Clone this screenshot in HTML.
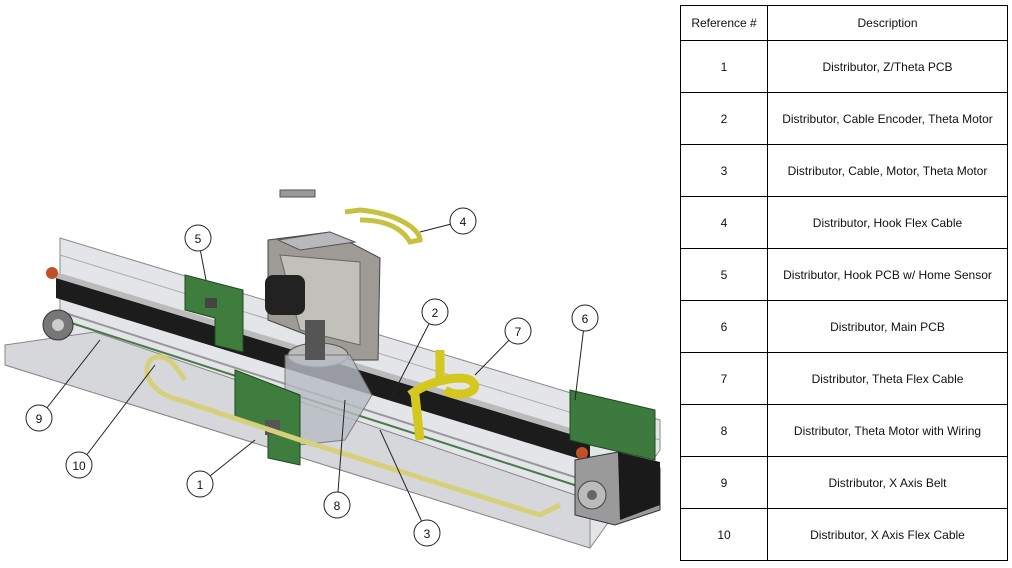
<!DOCTYPE html>
<html><head><style>
body{margin:0;width:1012px;height:568px;background:#fff;position:relative;overflow:hidden;font-family:"Liberation Sans",Arial,sans-serif}
table{position:absolute;left:680px;top:5px;border-collapse:collapse;font-size:12px;color:#111}
td{border:1px solid #000;text-align:center;padding:0;height:51px}
tr.h td{height:34px}
td.a{width:86px}td.b{width:239px}
svg{position:absolute;left:0;top:0}
</style></head><body>
<svg width="680" height="568" viewBox="0 0 680 568">
<!-- housing -->
<polygon points="60,238 660,420 660,450 590,548 5,365 5,345 60,340" fill="#e4e5e8" stroke="#8a8a8a" stroke-width="1"/>
<polygon points="5,345 95,332 590,500 590,548 5,365" fill="#d6d7db" stroke="#888" stroke-width="1"/>
<line x1="60" y1="255" x2="660" y2="440" stroke="#aaa"/>
<!-- black rail -->
<polygon points="56,278 590,440 590,462 56,298" fill="#1c1c1c"/>
<polygon points="56,272 590,434 590,440 56,278" fill="#bbb"/>
<!-- belt -->
<line x1="62" y1="320" x2="590" y2="490" stroke="#4a7a4a" stroke-width="2"/>
<line x1="62" y1="312" x2="590" y2="482" stroke="#999" stroke-width="2"/>
<circle cx="58" cy="325" r="15" fill="#777" stroke="#333"/><circle cx="58" cy="325" r="6" fill="#ccc"/>
<circle cx="52" cy="273" r="6" fill="#c0502a"/>
<circle cx="582" cy="453" r="6" fill="#c0502a"/>
<!-- right motor -->
<polygon points="575,460 618,452 660,468 660,510 615,525 575,515" fill="#9a9a9a" stroke="#333"/>
<polygon points="618,452 660,462 660,505 620,520" fill="#1a1a1a"/>
<circle cx="592" cy="495" r="14" fill="#bbb" stroke="#444"/><circle cx="592" cy="495" r="5" fill="#666"/>
<!-- PCB 6 -->
<polygon points="570,390 655,410 655,460 590,445 570,440" fill="#3d7a3d" stroke="#1e4a1e"/>
<!-- PCB 5 -->
<polygon points="185,275 243,290 243,352 215,345 215,318 185,310" fill="#3f7d3f" stroke="#1e4a1e"/>
<rect x="205" y="298" width="12" height="10" fill="#444"/>
<!-- motor block -->
<polygon points="268,240 330,232 380,258 378,360 350,360 320,340 268,320" fill="#9e9b96" stroke="#444"/>
<polygon points="280,255 360,262 360,345 300,330" fill="#c2c0bb" stroke="#666"/>
<rect x="265" y="275" width="40" height="40" rx="8" fill="#222"/>
<polygon points="278,240 330,232 355,242 300,250" fill="#b8b8bd" stroke="#555"/>
<rect x="280" y="190" width="35" height="7" fill="#999" stroke="#555"/>
<!-- theta motor -->
<ellipse cx="318" cy="355" rx="30" ry="12" fill="#bbb" stroke="#555"/>
<polygon points="285,355 350,355 372,395 345,440 300,445 285,420" fill="#b7bcc4" opacity=".8" stroke="#666"/>
<rect x="305" y="320" width="20" height="40" fill="#555"/>
<!-- PCB 1 -->
<polygon points="235,370 300,395 300,465 268,458 268,430 235,420" fill="#3f7d3f" stroke="#1e4a1e"/>
<rect x="265" y="420" width="15" height="15" fill="#555"/>
<!-- yellow cables -->
<path d="M345,212 L360,210 C400,214 420,230 420,240 L410,242 C400,225 380,220 360,220" fill="none" stroke="#c8c040" stroke-width="5"/>
<path d="M150,360 C140,375 155,395 180,400 L300,440 L540,515 L560,505" fill="none" stroke="#d6d07a" stroke-width="5"/>
<path d="M150,360 C165,350 175,365 185,380" fill="none" stroke="#d6d07a" stroke-width="5"/>
<path d="M440,350 L440,385 M410,395 C430,380 460,375 470,380 C485,390 460,400 445,390 M415,395 L420,440" fill="none" stroke="#d4c820" stroke-width="9"/>
<!-- leaders -->
<g stroke="#222" stroke-width="1" fill="none">
<line x1="200" y1="484" x2="255" y2="440"/><line x1="435" y1="312" x2="390" y2="400"/>
<line x1="427" y1="533" x2="380" y2="430"/><line x1="463" y1="221" x2="420" y2="232"/>
<line x1="198" y1="238" x2="206" y2="280"/><line x1="585" y1="318" x2="575" y2="400"/>
<line x1="518" y1="331" x2="475" y2="375"/><line x1="337" y1="505" x2="345" y2="400"/>
<line x1="39" y1="418" x2="100" y2="340"/><line x1="79" y1="465" x2="155" y2="365"/>
</g>
<g fill="#fff" stroke="#222" stroke-width="1">
<circle cx="200" cy="484" r="13"/><circle cx="435" cy="312" r="13"/><circle cx="427" cy="533" r="13"/>
<circle cx="463" cy="221" r="13"/><circle cx="198" cy="238" r="13"/><circle cx="585" cy="318" r="13"/>
<circle cx="518" cy="331" r="13"/><circle cx="337" cy="505" r="13"/><circle cx="39" cy="418" r="13"/>
<circle cx="79" cy="465" r="13"/>
</g>
<g font-family="Liberation Sans,sans-serif" font-size="12" text-anchor="middle" fill="#111">
<text x="200" y="489">1</text><text x="435" y="317">2</text><text x="427" y="538">3</text>
<text x="463" y="226">4</text><text x="198" y="243">5</text><text x="585" y="323">6</text>
<text x="518" y="336">7</text><text x="337" y="510">8</text><text x="39" y="423">9</text>
<text x="79" y="470">10</text>
</g>
</svg>
<table>
<tr class="h"><td class="a">Reference #</td><td class="b">Description</td></tr>
<tr><td>1</td><td>Distributor, Z/Theta PCB</td></tr>
<tr><td>2</td><td>Distributor, Cable Encoder, Theta Motor</td></tr>
<tr><td>3</td><td>Distributor, Cable, Motor, Theta Motor</td></tr>
<tr><td>4</td><td>Distributor, Hook Flex Cable</td></tr>
<tr><td>5</td><td>Distributor, Hook PCB w/ Home Sensor</td></tr>
<tr><td>6</td><td>Distributor, Main PCB</td></tr>
<tr><td>7</td><td>Distributor, Theta Flex Cable</td></tr>
<tr><td>8</td><td>Distributor, Theta Motor with Wiring</td></tr>
<tr><td>9</td><td>Distributor, X Axis Belt</td></tr>
<tr><td>10</td><td>Distributor, X Axis Flex Cable</td></tr>
</table>
</body></html>
